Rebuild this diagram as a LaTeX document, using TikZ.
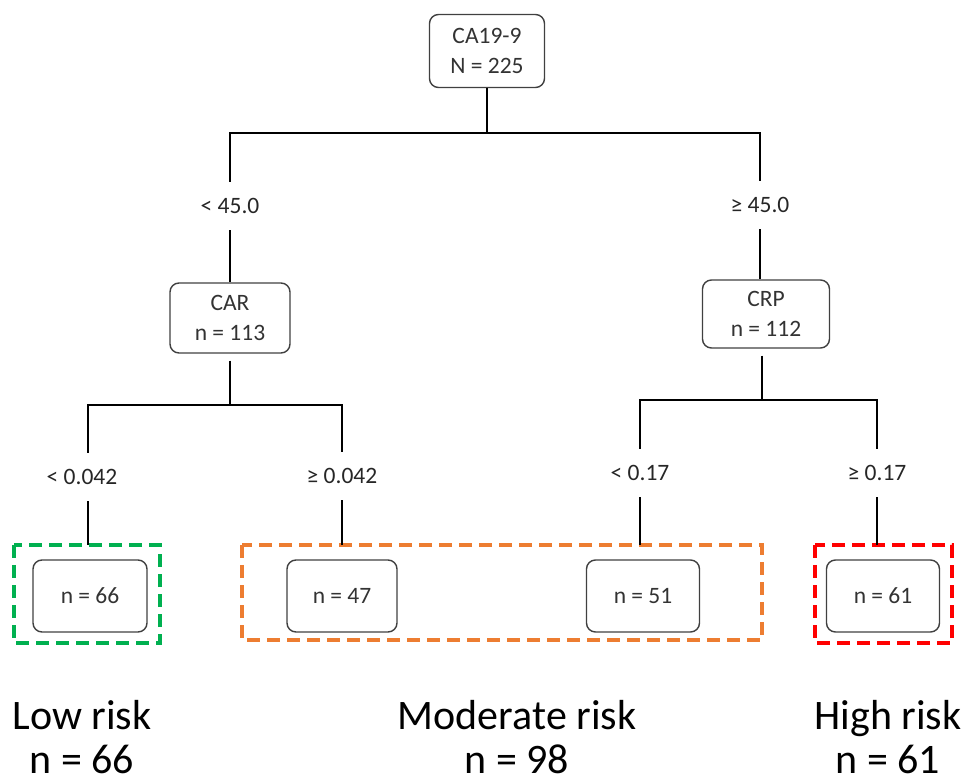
\documentclass[tikz,border=0pt]{standalone}
\usepackage{fontspec}
\setmainfont{Carlito}
\definecolor{lowgreen}{HTML}{00B050}
\definecolor{modorange}{HTML}{ED7D31}
\definecolor{highred}{HTML}{FF0000}
\tikzset{
  split/.style={draw=black!75, line width=1.4pt, rounded corners=9pt, align=center,
    font=\fontsize{23.5}{30}\selectfont, text=black!80},
  cut/.style={font=\fontsize{23.5}{26}\selectfont, text=black!85, minimum height=48pt, inner sep=0pt},
  tie/.style={line width=2.8pt},
  riskframe/.style={line width=4.5pt, dash pattern=on 13pt off 7pt},
  risk/.style={anchor=base, inner sep=0pt, font=\fontsize{42}{48}\selectfont}
}
\begin{document}
\begin{tikzpicture}[x=1pt, y=-1pt]
  \useasboundingbox (0,0) rectangle (962,783);
  % first split
  \node[split, minimum width=115pt, minimum height=73pt] (root) at (487,51) {CA19-9\\N = 225};
  \coordinate (fork) at (487,133);
  \node[cut] (lt45) at (230,206) {< 45.0};
  \node[cut] (ge45) at (760,205) {≥ 45.0};
  \draw[tie] (root) -- (fork);
  \draw[tie] (lt45.north) |- (fork) -| (ge45.north);
  % second level
  \node[split, minimum width=120pt, minimum height=70pt] (car) at (230,318) {CAR\\n = 113};
  \node[split, minimum width=127pt, minimum height=68pt] (crp) at (766,314) {CRP\\n = 112};
  \draw[tie] (lt45.south) -- (lt45.south |- car.north);
  \draw[tie] (ge45.south) -- (ge45.south |- crp.north);
  \coordinate (forkcar) at (230,405);
  \coordinate (forkcrp) at (762,400);
  \node[cut] (ltcar) at (82,477) {< 0.042};
  \node[cut] (gecar) at (342,476) {≥ 0.042};
  \node[cut] (ltcrp) at (640,473) {< 0.17};
  \node[cut] (gecrp) at (877,473) {≥ 0.17};
  \draw[tie, shorten <=7pt] (car.south) -- (forkcar);
  \draw[tie, shorten <=7pt] (crp.south -| forkcrp) -- (forkcrp);
  \draw[tie] (ltcar.north -| 88,0) |- (forkcar) -| (gecar.north);
  \draw[tie] (ltcrp.north) |- (forkcrp) -| (gecrp.north);
  % leaves
  \node[split, minimum width=114pt, minimum height=72pt] (n66) at (90,596) {n = 66};
  \node[split, minimum width=110pt, minimum height=72pt] (n47) at (342,596) {n = 47};
  \node[split, minimum width=113pt, minimum height=72pt] (n51) at (643,596) {n = 51};
  \node[split, minimum width=113pt, minimum height=72pt] (n61) at (883,596) {n = 61};
  % risk groups
  \draw[riskframe, lowgreen] (14,545) rectangle (160,643);
  \draw[riskframe, modorange] (242,545) rectangle (762,640);
  \draw[riskframe, highred] (815,545) rectangle (952,643);
  \draw[tie] (ltcar.south -| 88,0) -- (88,545);
  \draw[tie] (gecar.south) -- (gecar.south |- 0,545);
  \draw[tie] (ltcrp.south) -- (ltcrp.south |- 0,545);
  \draw[tie] (gecrp.south) -- (gecrp.south |- 0,545);
  \node[risk] (low) at (82,729) {Low risk};
  \node[risk] (lown) at (82,773) {n = 66};
  \node[risk] (mod) at (517,729) {Moderate risk};
  \node[risk] (modn) at (517,773) {n = 98};
  \node[risk] (high) at (888,729) {High risk};
  \node[risk] (highn) at (888,773) {n = 61};
\end{tikzpicture}
\end{document}
